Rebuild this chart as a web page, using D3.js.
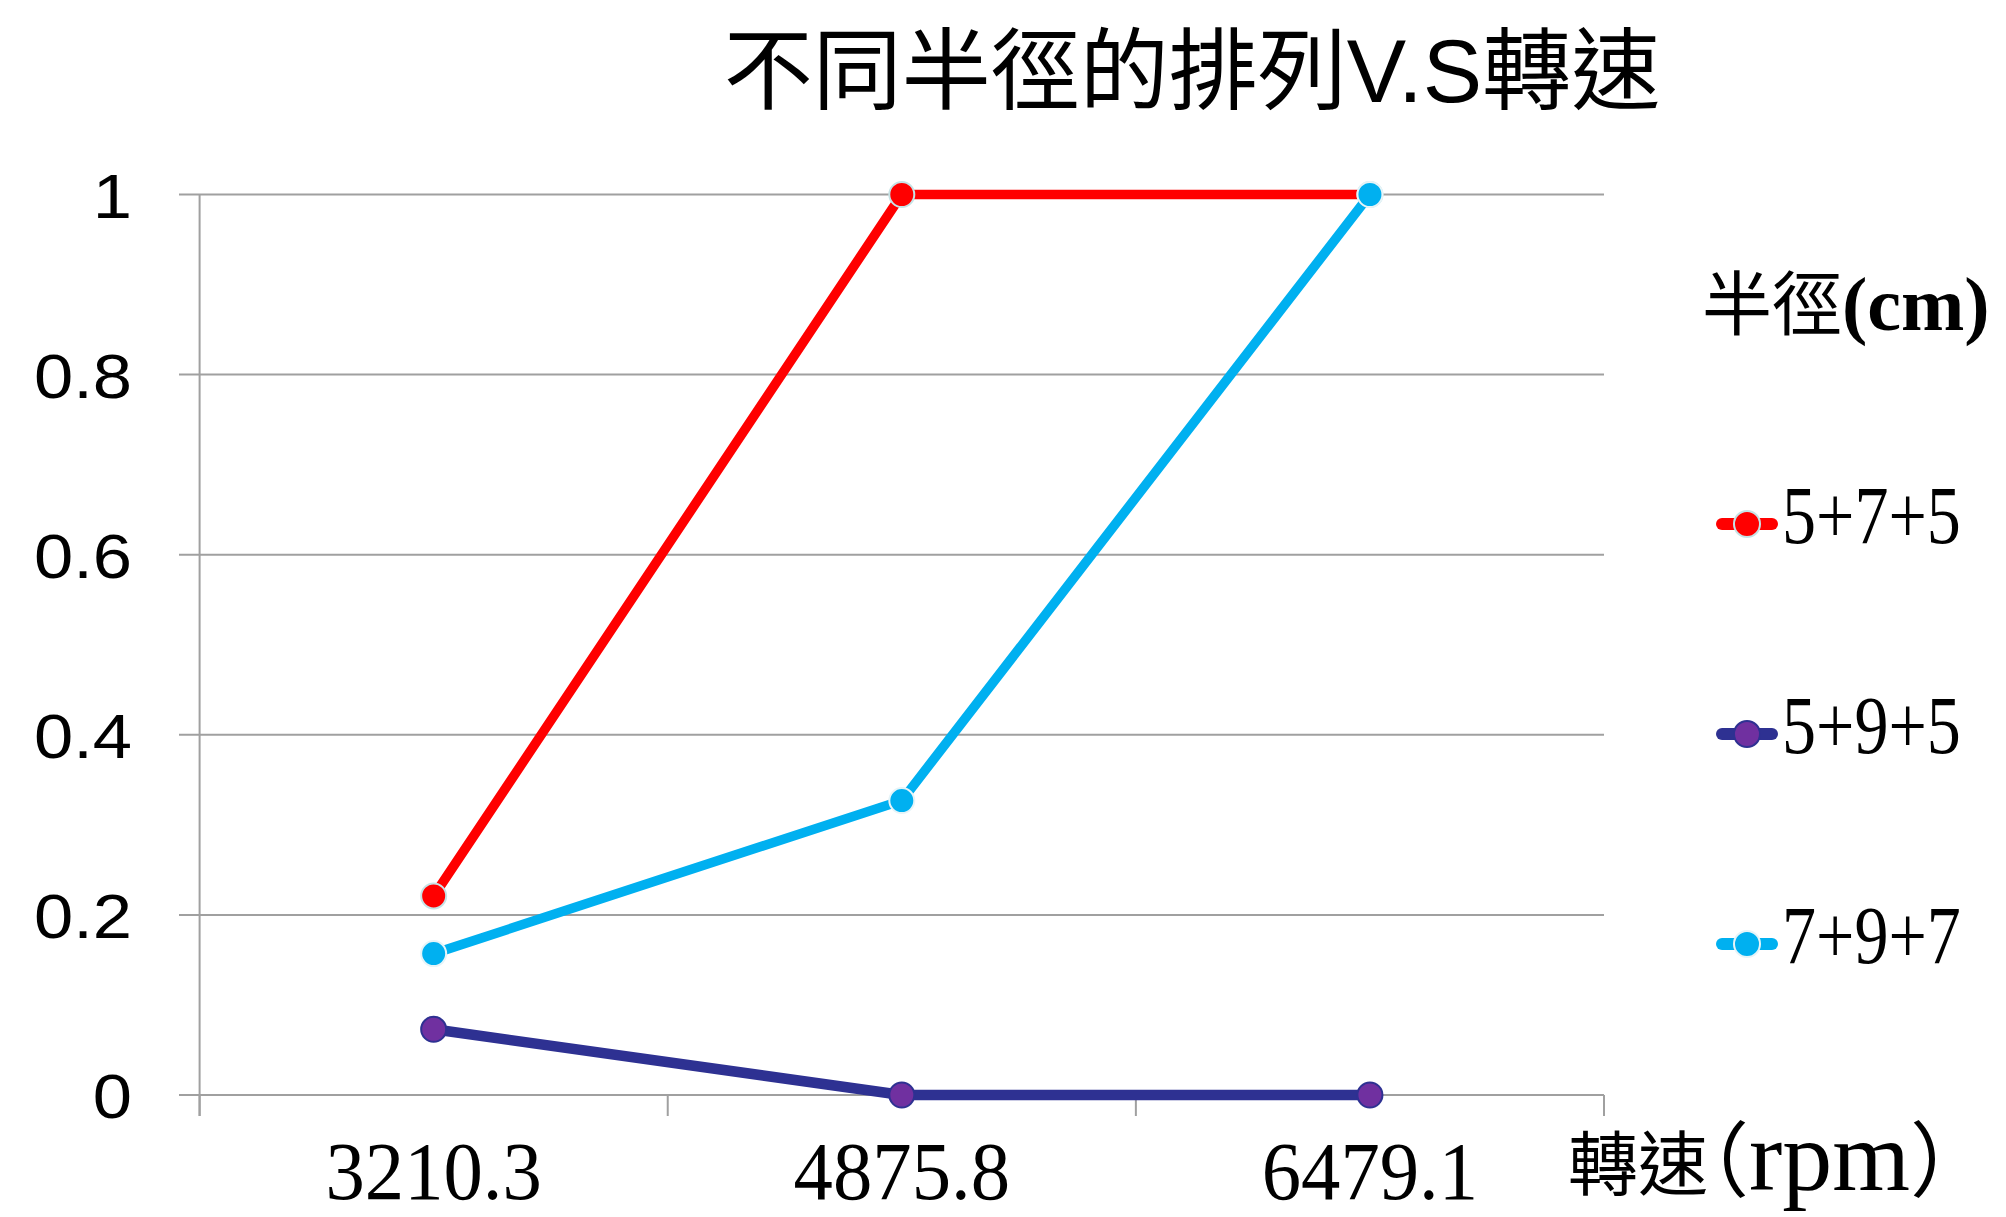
<!DOCTYPE html>
<html>
<head>
<meta charset="utf-8">
<script src="https://cdn.jsdelivr.net/npm/d3@7"></script>
<style>
  html, body { margin: 0; padding: 0; background: #ffffff; }
  svg { display: block; }
</style>
</head>
<body>
<script>
// Rotation speeds (rpm) on the x axis
const speeds = ["3210.3", "4875.8", "6479.1"];
// Radius arrangements (cm)
const seriesNames = ["5+7+5", "5+9+5", "7+9+7"];
// Values per arrangement, one per speed
const values575 = [0.221, 1, 1];
const values595 = [0.073, 0, 0];
const values797 = [0.157, 0.327, 1];
const yTicks = [0, 0.2, 0.4, 0.6, 0.8, 1];
const yTickLabels = ["0", "0.2", "0.4", "0.6", "0.8", "1"];

const titleText = "不同半徑的排列V.S轉速";
const legendTitle = "半徑";
const legendUnit = "(cm)";
const xAxisTitleParts = ["轉速", "（", "rpm", "）"];

const lineColors = ["#ff0000", "#2e3192", "#00b0f0"];
const markerFill = ["#ff0000", "#7030a0", "#00b0f0"];
const markerStroke = ["#c6e3e6", "#2e3192", "#e6f4f8"];

const W = 2006, H = 1217;
const svg = d3.select("body").append("svg").attr("width", W).attr("height", H);

const x = d3.scaleBand().domain(speeds).range([199.6, 1604]).padding(0);
const y = d3.scaleLinear().domain([0, 1]).range([1095, 194.5]);
const cx = d => x(d) + x.bandwidth() / 2;

const grid = "#a0a0a0";

// horizontal gridlines with outward tick stubs
svg.append("g").selectAll("line").data(yTicks).join("line")
  .attr("x1", 179).attr("x2", 1604)
  .attr("y1", d => y(d)).attr("y2", d => y(d))
  .attr("stroke", grid).attr("stroke-width", 2);

// value axis line
svg.append("line")
  .attr("x1", 199.6).attr("x2", 199.6)
  .attr("y1", y(1)).attr("y2", 1116)
  .attr("stroke", grid).attr("stroke-width", 2);

// category tick marks between bands
const bounds = speeds.map(s => x(s)).concat([x(speeds[speeds.length - 1]) + x.bandwidth()]);
svg.append("g").selectAll("line").data(bounds).join("line")
  .attr("x1", d => d).attr("x2", d => d)
  .attr("y1", y(0)).attr("y2", 1116)
  .attr("stroke", grid).attr("stroke-width", 2);

// y tick labels
svg.append("g").selectAll("text").data(yTicks).join("text")
  .attr("transform", d => `translate(132,${y(d) + 23}) scale(1.12,1)`)
  .attr("text-anchor", "end")
  .attr("font-family", "Liberation Sans, Arial, sans-serif")
  .attr("font-size", 63)
  .attr("fill", "#000")
  .text((d, i) => yTickLabels[i]);

// x tick labels
svg.append("g").selectAll("text").data(speeds).join("text")
  .attr("transform", d => `translate(${cx(d)},1199) scale(0.96,1)`)
  .attr("text-anchor", "middle")
  .attr("font-family", "Liberation Serif, serif")
  .attr("font-size", 82)
  .attr("fill", "#000")
  .text(d => d);

// x axis title
const xt = svg.append("text")
  .attr("x", 1568).attr("y", 1190)
  .attr("fill", "#000")
  .style("font-feature-settings", "'halt'");
xt.append("tspan").attr("font-family", "Noto Sans CJK TC, sans-serif").attr("font-size", 70).text(xAxisTitleParts[0]);
xt.append("tspan").attr("font-family", "Noto Sans CJK TC, sans-serif").attr("font-size", 82).text(xAxisTitleParts[1]);
xt.append("tspan").attr("font-family", "Liberation Serif, serif").attr("font-size", 100).text(xAxisTitleParts[2]);
xt.append("tspan").attr("font-family", "Noto Sans CJK TC, sans-serif").attr("font-size", 82).text(xAxisTitleParts[3]);

// chart title
svg.append("text")
  .attr("x", 1192).attr("y", 102)
  .attr("text-anchor", "middle")
  .attr("font-family", "Liberation Sans, Noto Sans CJK TC, sans-serif")
  .attr("font-size", 89)
  .attr("fill", "#000")
  .text(titleText);

// series
const allValues = [values575, values595, values797];
const line = d3.line().x((d, i) => cx(speeds[i])).y(d => y(d));
allValues.forEach((vals, s) => {
  const g = svg.append("g");
  g.append("path")
    .attr("d", line(vals))
    .attr("fill", "none")
    .attr("stroke", lineColors[s])
    .attr("stroke-width", s === 1 ? 10.5 : 9.5)
    .attr("stroke-linejoin", "round");
  g.selectAll("circle").data(vals).join("circle")
    .attr("cx", (d, i) => cx(speeds[i]))
    .attr("cy", d => y(d))
    .attr("r", 12.5)
    .attr("fill", markerFill[s])
    .attr("stroke", markerStroke[s])
    .attr("stroke-width", 2);
});

// legend
const legendTitleEl = svg.append("text")
  .attr("x", 1702).attr("y", 330)
  .attr("font-size", 70)
  .attr("fill", "#000");
legendTitleEl.append("tspan")
  .attr("font-family", "Noto Sans CJK TC, sans-serif")
  .text(legendTitle);
legendTitleEl.append("tspan")
  .attr("font-family", "Liberation Serif, serif")
  .attr("font-weight", "bold")
  .attr("font-size", 76)
  .text(legendUnit);

const legendY = [524, 734, 944];
seriesNames.forEach((name, s) => {
  const g = svg.append("g").attr("transform", `translate(0,${legendY[s]})`);
  g.append("line")
    .attr("x1", 1722).attr("x2", 1772).attr("y1", 0).attr("y2", 0)
    .attr("stroke", lineColors[s]).attr("stroke-width", 12)
    .attr("stroke-linecap", "round");
  g.append("circle")
    .attr("cx", 1747).attr("cy", 0).attr("r", 13)
    .attr("fill", markerFill[s])
    .attr("stroke", markerStroke[s]).attr("stroke-width", 2);
  g.append("text")
    .attr("transform", "translate(1782,19) scale(0.82,1)")
    .attr("font-family", "Liberation Serif, serif")
    .attr("font-size", 83)
    .attr("fill", "#000")
    .text(name);
});
</script>
</body>
</html>
